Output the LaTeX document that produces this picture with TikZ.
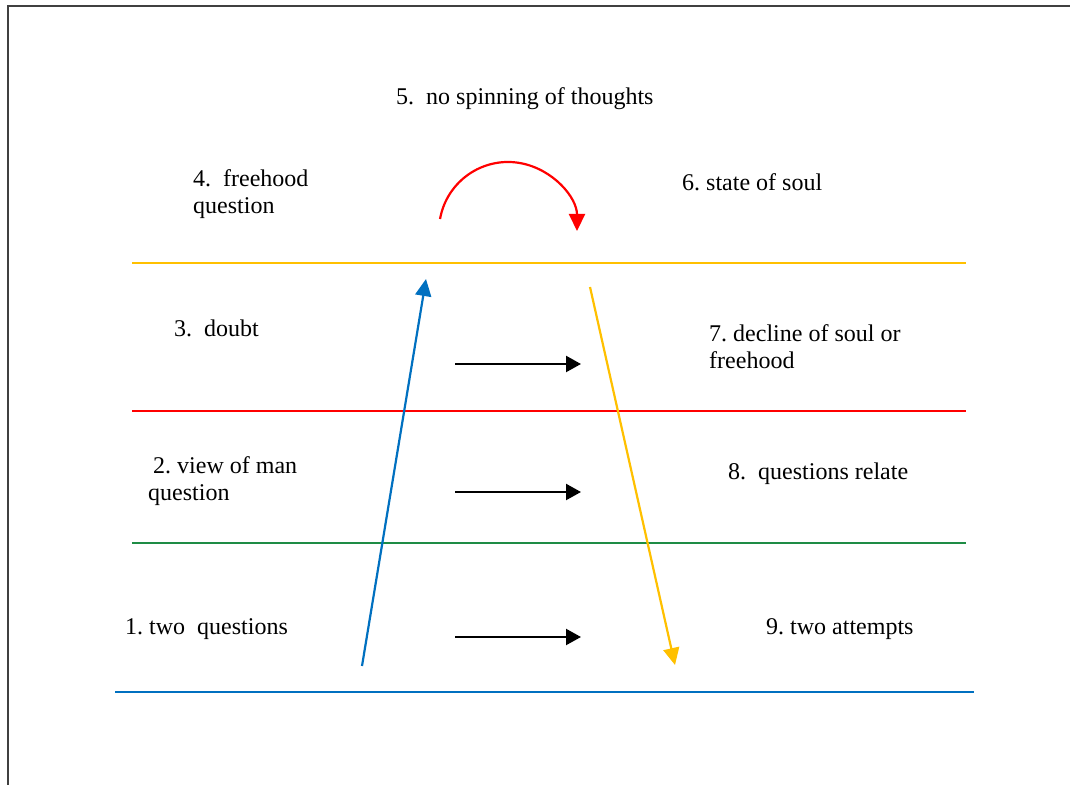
\documentclass[tikz,border=0pt]{standalone}
\usepackage{fontspec}
\setmainfont{Liberation Serif}
\usetikzlibrary{arrows.meta,calc}
\definecolor{cyellow}{HTML}{FFC000}
\definecolor{cred}{HTML}{FF0000}
\definecolor{cgreen}{HTML}{1E8C45}
\definecolor{cblue}{HTML}{0070C0}
\definecolor{cframe}{HTML}{404040}
\begin{document}
\begin{tikzpicture}[x=1pt,y=1pt,
  lbl/.style={anchor=base west,inner sep=0pt,align=left,font=\fontsize{24}{27}\selectfont\frenchspacing},
  band/.style={line width=2.2pt},
  arr/.style={line width=2.2pt,-{Triangle[length=15pt,width=16pt]}},
  bigarr/.style={line width=2.2pt,-{Triangle[length=17pt,width=16pt]}}]
\useasboundingbox (0,0) rectangle (1070,784);
\draw[cframe,line width=2pt] (8,-20) -- (8,778) -- (1090,778);
% horizontal bands
\draw[band,cyellow] (132,521) coordinate (y1) -- (966,521) coordinate (y2);
\draw[band,cred] (132,373) coordinate (r1) -- (966,373) coordinate (r2);
\draw[band,cgreen] (132,241) coordinate (g1) -- (966,241) coordinate (g2);
\draw[band,cblue] (115,92) coordinate (b1) -- (974,92) coordinate (b2);
% labels (multi-line labels are placed by the baseline of their last line)
\node[lbl] (n5) at (396,679) {5.\ \ no spinning of thoughts};
\node[lbl] (n4) at (193,570) {4.\ \ freehood\\question};
\node[lbl] (n6) at (682,593) {6. state of soul};
\node[lbl] (n3) at (174,447) {3.\ \ doubt};
\node[lbl] (n7) at (709,415) {7. decline of soul or\\freehood};
\node[lbl] (n2) at (148,283) {\hspace{5pt}2. view of man\\question};
\node[lbl] (n8) at (728,304) {8.\ \ questions relate};
\node[lbl] (n1) at (125,149) {1. two\ \ questions};
\node[lbl] (n9) at (766,149) {9. two attempts};
% arrows
\coordinate (bs) at (362,118);
\coordinate (be) at (426,505);
\draw[bigarr,cblue] (bs) -- (be);
\coordinate (ys) at (590,497);
\coordinate (ye) at (675,119);
\draw[bigarr,cyellow] (ys) -- (ye);
\coordinate (rc) at (508,553);
\coordinate (rs) at ($(rc)+(170:69)$);
\draw[bigarr,cred] (rs) arc[start angle=170,end angle=0,radius=69];
\coordinate (a1s) at (455,420); \coordinate (a1e) at (581,420);
\coordinate (a2s) at (455,292); \coordinate (a2e) at (581,292);
\coordinate (a3s) at (455,147); \coordinate (a3e) at (581,147);
\draw[arr] (a1s) -- (a1e);
\draw[arr] (a2s) -- (a2e);
\draw[arr] (a3s) -- (a3e);
\end{tikzpicture}
\end{document}
